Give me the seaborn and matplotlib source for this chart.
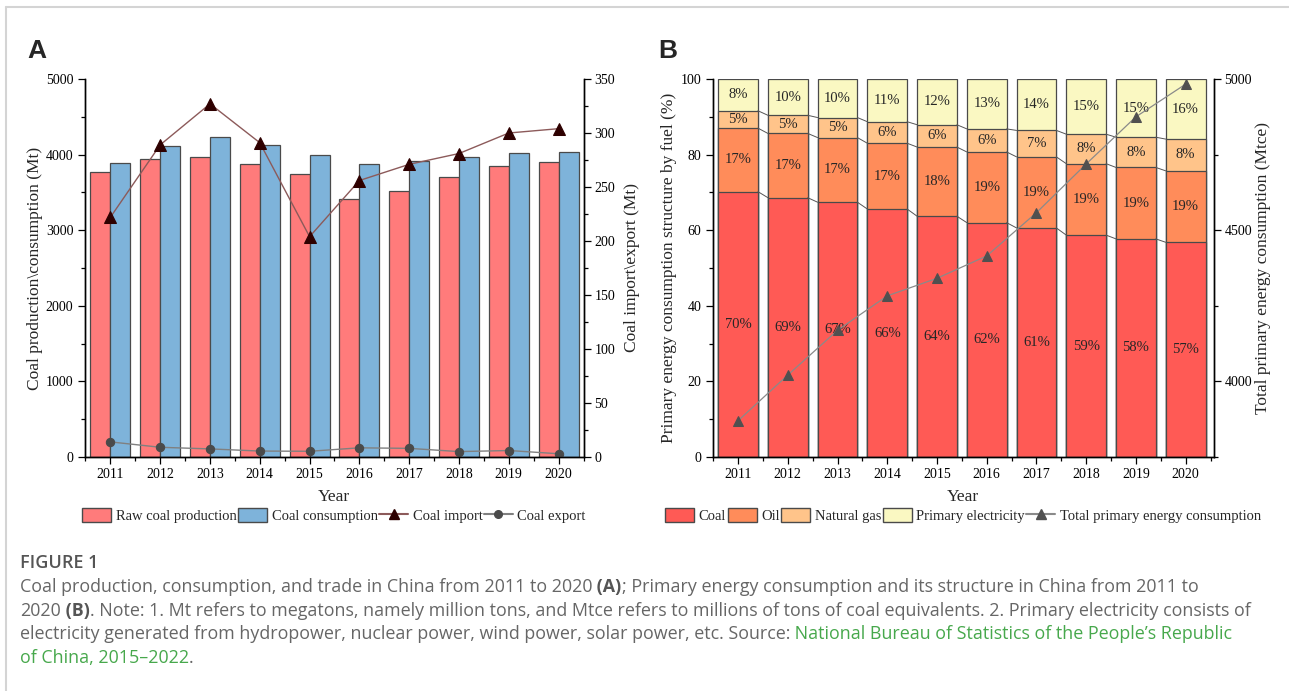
import numpy as np
import pandas as pd
import seaborn as sns
import matplotlib.pyplot as plt
from matplotlib.patches import Patch
from matplotlib.lines import Line2D
from matplotlib.ticker import MultipleLocator, FixedLocator

# ---- data ----
years = ["2011", "2012", "2013", "2014", "2015", "2016", "2017", "2018", "2019", "2020"]

# panel A, Mt
raw_coal_production = [3764, 3945, 3974, 3874, 3747, 3411, 3524, 3698, 3846, 3902]
coal_consumption = [3889, 4110, 4233, 4127, 3990, 3880, 3915, 3968, 4017, 4034]
coal_import = [222, 289, 327, 291, 204, 256, 271, 281, 300, 304]
coal_export = [14, 9, 7.5, 5.5, 5.3, 8.5, 8, 5, 6, 3]

# panel B, share in % and total in Mtce
share_coal = [70.2, 68.6, 67.4, 65.6, 63.7, 62.0, 60.6, 58.7, 57.7, 56.8]
share_oil = [16.8, 17.0, 17.1, 17.4, 18.3, 18.7, 18.8, 18.9, 18.9, 18.9]
share_gas = [4.6, 4.8, 5.3, 5.7, 5.9, 6.1, 7.0, 7.8, 8.0, 8.4]
share_elec = [8.4, 9.6, 10.2, 11.3, 12.1, 13.2, 13.6, 14.6, 15.4, 15.9]
total_energy = [3870, 4021, 4169, 4283, 4341, 4415, 4558, 4719, 4875, 4983]

W, H = 1289, 691
sns.set_theme(style="ticks")
plt.rcParams["font.family"] = ["Liberation Serif", "DejaVu Serif"]
plt.rcParams["axes.edgecolor"] = "black"
plt.rcParams["axes.linewidth"] = 1.0
plt.rcParams["xtick.color"] = "black"
plt.rcParams["ytick.color"] = "black"

fig = plt.figure(figsize=(W / 100, H / 100), dpi=100)
ax_a = fig.add_axes([84.5 / W, 1 - 457 / H, 499 / W, 378 / H])
ax_b = fig.add_axes([712.7 / W, 1 - 457 / H, 500.8 / W, 378 / H])

pos = np.arange(len(years))
edge = "#4a4a4a"


def style_ticks(ax, ax2):
    for a in (ax, ax2):
        a.tick_params(which="major", direction="out", length=5, width=0.9, labelsize=10, pad=3)
        a.tick_params(which="minor", direction="out", length=3, width=0.9)
        a.spines["top"].set_visible(False)
    ax.xaxis.set_minor_locator(FixedLocator(np.arange(-0.5, len(years), 1)))


# ---------------- panel A ----------------
red, blue = "#ff7b7b", "#7eb3da"
df_a = pd.DataFrame({
    "year": years * 2,
    "value": raw_coal_production + coal_consumption,
    "series": ["Raw coal production"] * len(years) + ["Coal consumption"] * len(years),
})
sns.barplot(data=df_a, x="year", y="value", hue="series", ax=ax_a,
            palette={"Raw coal production": red, "Coal consumption": blue},
            saturation=1, width=0.8, edgecolor=edge, linewidth=0.9, legend=False)
ax_a.set_ylim(0, 5000)
ax_a.set_xlim(-0.52, 9.5)
ax_a.yaxis.set_major_locator(MultipleLocator(1000))
ax_a.yaxis.set_minor_locator(MultipleLocator(500))
ax_a.set_xlabel("Year", fontsize=12.5, labelpad=6)
ax_a.set_ylabel("Coal production\\consumption (Mt)", fontsize=12.5, labelpad=2)

ax_a2 = ax_a.twinx()
imp_line, imp_mark = "#8c5a5a", "#2e0000"
exp_line, exp_mark = "#808080", "#4a4a4a"
sns.lineplot(x=pos, y=coal_import, ax=ax_a2, color=imp_line, lw=1.0, marker="^",
             markersize=8, markerfacecolor=imp_mark, markeredgecolor=imp_mark)
sns.lineplot(x=pos, y=coal_export, ax=ax_a2, color=exp_line, lw=1.0, marker="o",
             markersize=6, markerfacecolor=exp_mark, markeredgecolor=exp_mark)
ax_a2.set_ylim(0, 350)
ax_a2.yaxis.set_major_locator(MultipleLocator(50))
ax_a2.yaxis.set_minor_locator(MultipleLocator(25))
ax_a2.set_ylabel("Coal import\\export (Mt)", fontsize=12.5, labelpad=6)
style_ticks(ax_a, ax_a2)

handles_a = [
    Patch(facecolor=red, edgecolor=edge, label="Raw coal production"),
    Patch(facecolor=blue, edgecolor=edge, label="Coal consumption"),
    Line2D([], [], color=imp_line, marker="^", markersize=7, markerfacecolor=imp_mark,
           markeredgecolor=imp_mark, label="Coal import"),
    Line2D([], [], color=exp_line, marker="o", markersize=5.5, markerfacecolor=exp_mark,
           markeredgecolor=exp_mark, label="Coal export"),
]
ax_a.legend(handles=handles_a, loc="center", bbox_to_anchor=(0.5, -0.155), ncol=4,
            frameon=False, fontsize=10.5, columnspacing=0.1, handletextpad=0.3,
            handlelength=2.0, handleheight=1.1, borderpad=0)

# ---------------- panel B ----------------
fuel_colors = ["#ff5a55", "#ff8c5a", "#ffc48a", "#faf8c2"]
shares = [share_coal, share_oil, share_gas, share_elec]
cum = np.cumsum(np.array(shares), axis=0)

# overlay cumulative bars, tallest first
for level in range(3, -1, -1):
    sns.barplot(x=years, y=cum[level], ax=ax_b, color=fuel_colors[level], saturation=1,
                width=0.8, edgecolor=edge, linewidth=0.9)

# connector lines between stacked segments
for level in range(3):
    for i in range(len(years) - 1):
        ax_b.plot([pos[i] + 0.4, pos[i + 1] - 0.4], [cum[level][i], cum[level][i + 1]],
                  color="#555555", lw=0.7, zorder=3)

# percentage labels
for level in range(4):
    bottoms = cum[level] - np.array(shares[level])
    for i in range(len(years)):
        ax_b.text(pos[i], bottoms[i] + shares[level][i] / 2, f"{shares[level][i]:.0f}%",
                  ha="center", va="center", fontsize=10.5, zorder=4)

ax_b.set_ylim(0, 100)
ax_b.set_xlim(-0.51, 9.56)
ax_b.yaxis.set_major_locator(MultipleLocator(20))
ax_b.yaxis.set_minor_locator(MultipleLocator(10))
ax_b.set_xlabel("Year", fontsize=12.5, labelpad=6)
ax_b.set_ylabel("Primary energy consumption structure by fuel (%)", fontsize=12.5, labelpad=3)

ax_b2 = ax_b.twinx()
tot_line, tot_mark = "#8a8a8a", "#505050"
sns.lineplot(x=pos, y=total_energy, ax=ax_b2, color=tot_line, lw=0.9, marker="^",
             markersize=7, markerfacecolor=tot_mark, markeredgecolor=tot_mark)
ax_b2.set_ylim(3750, 5000)
ax_b2.yaxis.set_major_locator(MultipleLocator(500))
ax_b2.yaxis.set_minor_locator(MultipleLocator(250))
ax_b2.set_ylabel("Total primary energy consumption (Mtce)", fontsize=12.5, labelpad=2)
style_ticks(ax_b, ax_b2)

handles_b = [Patch(facecolor=c, edgecolor=edge, label=l)
             for c, l in zip(fuel_colors, ["Coal", "Oil", "Natural gas", "Primary electricity"])]
handles_b.append(Line2D([], [], color=tot_line, marker="^", markersize=6.5,
                        markerfacecolor=tot_mark, markeredgecolor=tot_mark,
                        label="Total primary energy consumption"))
ax_b.legend(handles=handles_b, loc="center", bbox_to_anchor=(0.5, -0.155), ncol=5,
            frameon=False, fontsize=10.5, columnspacing=0.1, handletextpad=0.3,
            handlelength=2.0, handleheight=1.1, borderpad=0)

# panel letters
for x_px, letter in [(27, "A"), (658, "B")]:
    fig.text(x_px / W, 1 - 51 / H, letter, fontsize=19, fontweight="bold",
             family=["Liberation Sans", "DejaVu Sans"], ha="left", va="center")

# card border (top and left)
fig.add_artist(Line2D([6 / W, 1], [1 - 7 / H, 1 - 7 / H], transform=fig.transFigure,
                      color="#d4d4d4", lw=1.5))
fig.add_artist(Line2D([6 / W, 6 / W], [0, 1 - 7 / H], transform=fig.transFigure,
                      color="#d4d4d4", lw=1.5))

# ---------------- caption ----------------
renderer = fig.canvas.get_renderer()
cap_font = ["Open Sans", "DejaVu Sans"]
gray, dark, green = "#666666", "#555555", "#47a84c"
cap_size = 12.9
plain = dict(color=gray, fontsize=cap_size, family=cap_font)
bold = dict(color=dark, fontsize=cap_size, family=cap_font, fontweight="bold")
link = dict(color=green, fontsize=cap_size, family=cap_font)


def put_line(pieces, base_px, x_px=20):
    x = x_px
    for txt, style in pieces:
        t = fig.text(x / W, 1 - base_px / H, txt, ha="left", va="baseline", **style)
        x = t.get_window_extent(renderer=renderer).x1


put_line([("FIGURE 1", dict(color=dark, fontsize=13, family=cap_font, fontweight="semibold"))], 568)
put_line([("Coal production, consumption, and trade in China from 2011 to 2020", plain),
          (" (A)", bold),
          ("; Primary energy consumption and its structure in China from 2011 to", plain)], 592)
put_line([("2020", plain), (" (B)", bold),
          (". Note: 1. Mt refers to megatons, namely million tons, and Mtce refers to millions "
           "of tons of coal equivalents. 2. Primary electricity consists of", plain)], 616)
put_line([("electricity generated from hydropower, nuclear power, wind power, solar power, etc. Source:", plain),
          (" National Bureau of Statistics of the People\u2019s Republic", link)], 639)
put_line([("of China, 2015\u20132022", link), (".", plain)], 663)

fig.savefig("out.png", dpi=100)
